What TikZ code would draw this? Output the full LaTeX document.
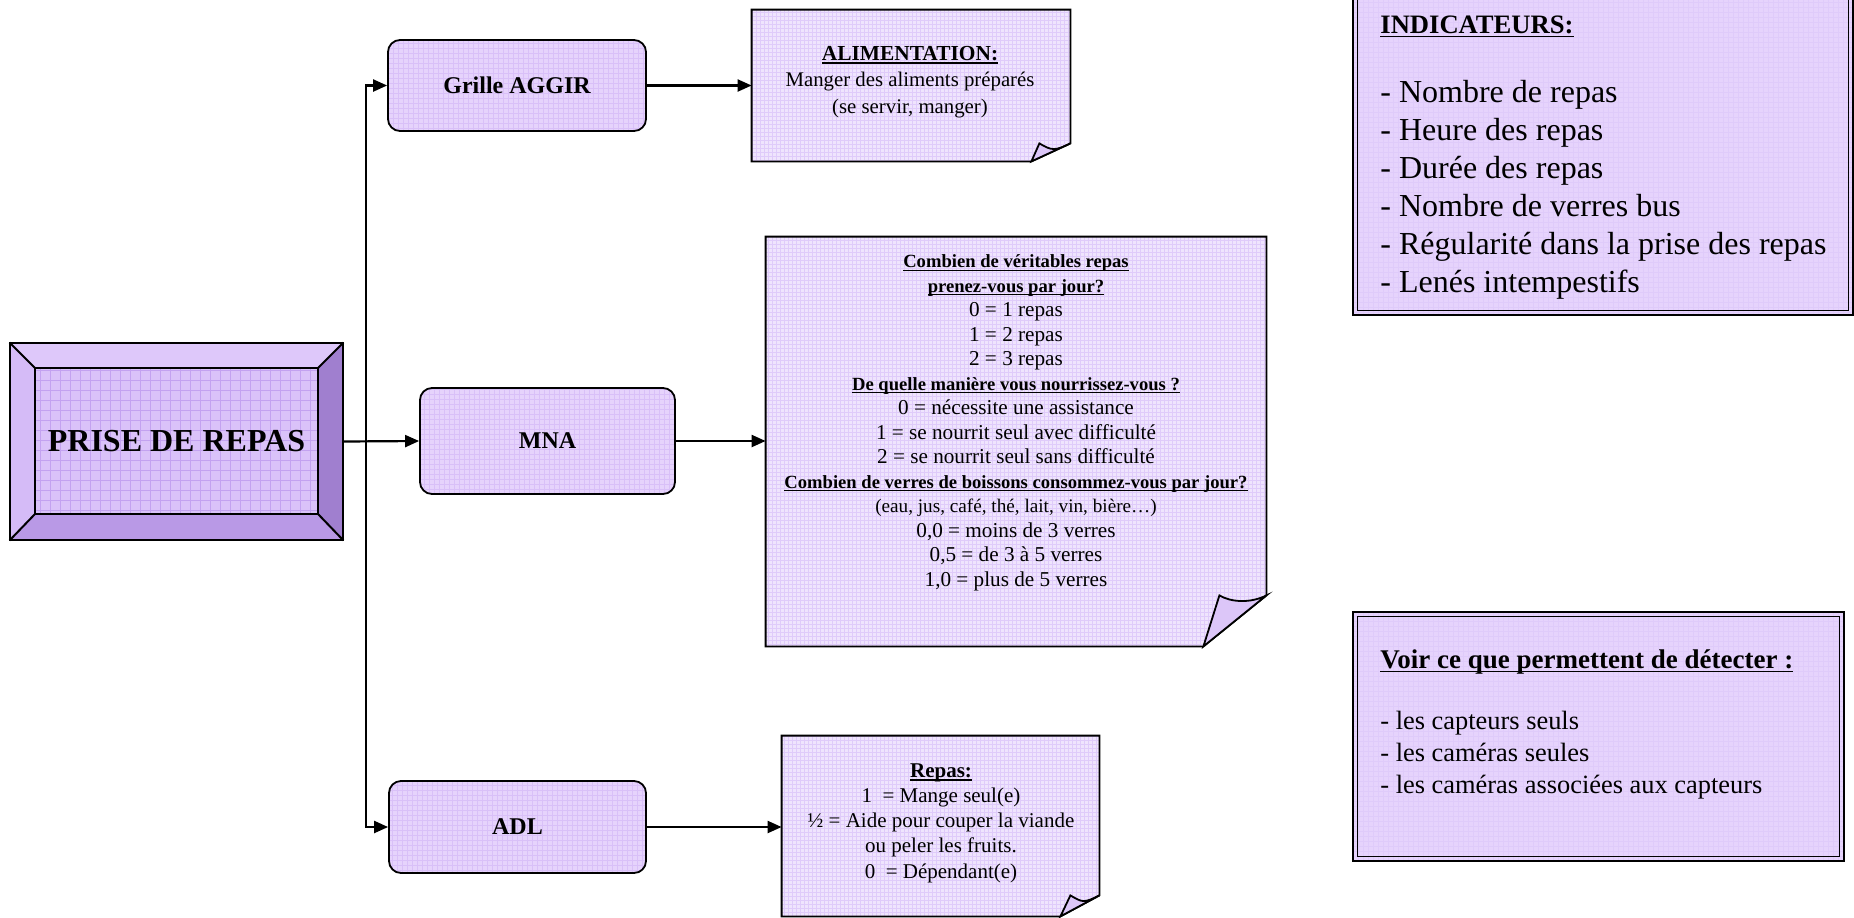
\documentclass[tikz,border=0pt]{standalone}
\usepackage{fontspec}
\setmainfont{Liberation Serif}
\usetikzlibrary{arrows.meta,calc}
\definecolor{notefill}{HTML}{EFE4FD}
\definecolor{notegrid}{HTML}{DFCBFA}
\definecolor{boxfill}{HTML}{E6D3FC}
\definecolor{boxgrid}{HTML}{D9C0F8}
\definecolor{facefill}{HTML}{DAC2F9}
\definecolor{facegrid}{HTML}{C3A2F0}
\definecolor{bevtop}{HTML}{DEC8FA}
\definecolor{bevleft}{HTML}{D5BBF7}
\definecolor{bevbot}{HTML}{B999E6}
\definecolor{bevright}{HTML}{A07FCF}
\definecolor{flapfill}{HTML}{DCC6F8}
\definecolor{dboxfill}{HTML}{E6D3FC}
\newsavebox{\myulbox}
\newcommand{\myul}[1]{\sbox{\myulbox}{#1}\rlap{\vrule width\wd\myulbox height -0.1em depth 0.155em}\usebox{\myulbox}}
\tikzset{
  gridded/.style 2 args={path picture={\draw[#1,line width=0.3pt] (path picture bounding box.south west) grid[step=#2] (path picture bounding box.north east);}},
  rbox/.style={draw=black, line width=0.9pt, rounded corners=6pt, fill=boxfill, gridded={boxgrid}{2.5pt}, font=\fontsize{12}{14}\selectfont\bfseries, inner sep=0pt},
  noteanchor/.style={draw=none, inner sep=0pt},
  notebody/.style={draw=black, line width=0.9pt, fill=notefill, gridded={notegrid}{2pt}},
  flap/.style={draw=black, line width=0.9pt, fill=flapfill},
  dbox/.style={draw=black, line width=1.4pt, fill=dboxfill, gridded={notegrid}{2.5pt}, inner sep=0pt},
  conn/.style={line width=1.1pt, -{Triangle[length=7pt,width=6pt]}},
  txt/.style={inner sep=0pt, align=center}
}
\newcommand{\drawfoldnote}[4]{%
  \filldraw[notebody] (#1.north west) -- (#1.north east) -- ($(#1.south east)+(0,-#3)$) -- ($(#1.south east)+(-#2,0)$) -- (#1.south west) -- cycle;
  \filldraw[flap] ($(#1.south east)+(-#2,0)$) -- ($(#1.south east)+(-#2+#4,-#3)$) .. controls +(12,7) and +(-16,8) .. ($(#1.south east)+(0,-#3)$) -- cycle;
}
\begin{document}
\begin{tikzpicture}[x=0.5pt,y=-0.5pt]
\useasboundingbox (0,0) rectangle (1854,917);

% main bevel box
\node[draw=none, inner sep=0pt, minimum width=166.5pt, minimum height=98.5pt] (main) at (176.5,441.5) {};
\coordinate (iNW) at ($(main.north west)+(25,25)$);
\coordinate (iNE) at ($(main.north east)+(-25,25)$);
\coordinate (iSE) at ($(main.south east)+(-25,-26)$);
\coordinate (iSW) at ($(main.south west)+(25,-26)$);
\fill[bevtop] (main.north west) -- (main.north east) -- (iNE) -- (iNW) -- cycle;
\fill[bevleft] (main.north west) -- (iNW) -- (iSW) -- (main.south west) -- cycle;
\fill[bevbot] (main.south west) -- (iSW) -- (iSE) -- (main.south east) -- cycle;
\fill[bevright] (main.north east) -- (main.south east) -- (iSE) -- (iNE) -- cycle;
\filldraw[line width=1pt, fill=facefill, gridded={facegrid}{5pt}] (iNW) rectangle (iSE);
\draw[line width=1pt] (main.north west) rectangle (main.south east);
\draw[line width=1pt] (main.north west) -- (iNW) (main.north east) -- (iNE) (main.south east) -- (iSE) (main.south west) -- (iSW);
\node[txt, font=\fontsize{16}{18}\selectfont\bfseries] (title) at ($(iNW)!0.5!(iSE)$) {PRISE DE REPAS};

% rounded boxes
\node[rbox, minimum width=129pt, minimum height=45.5pt] (grille) at (517,85.5) {Grille AGGIR};
\node[rbox, minimum width=127.5pt, minimum height=53pt] (mna) at (547.5,441) {MNA};
\node[rbox, minimum width=128.5pt, minimum height=46pt] (adl) at (517.5,827) {ADL};

% notes
\node[noteanchor, minimum width=159pt, minimum height=75.5pt] (note1) at (911,85.5) {};
\drawfoldnote{note1}{39}{18}{8}
\node[txt, font=\fontsize{10.4}{13.3}\selectfont] (n1txt) at (910,82) {{\fontsize{10.7}{13.3}\selectfont\myul{\textbf{ALIMENTATION:}}}\\Manger des aliments préparés\\(se servir, manger)};

\node[noteanchor, minimum width=250pt, minimum height=204.5pt] (note2) at (1016,441.5) {};
\drawfoldnote{note2}{63}{51}{16}
\node[txt, font=\fontsize{10.6}{12.25}\selectfont] (n2txt) at (1016,423) {%
{\fontsize{9.3}{12.25}\selectfont\bfseries\myul{Combien de véritables repas}}\\
{\fontsize{9.3}{12.25}\selectfont\bfseries\myul{prenez-vous par jour?}}\\
0 = 1 repas\\
1 = 2 repas\\
2 = 3 repas\\
{\fontsize{9.3}{12.25}\selectfont\bfseries\myul{De quelle manière vous nourrissez-vous ?}}\\
0 = nécessite une assistance\\
1 = se nourrit seul avec difficulté\\
2 = se nourrit seul sans difficulté\\
{\fontsize{9.3}{12.25}\selectfont\bfseries\myul{Combien de verres de boissons consommez-vous par jour?}}\\
{\fontsize{9.6}{12.25}\selectfont (eau, jus, café, thé, lait, vin, bière…)}\\
0,0 = moins de 3 verres\\
0,5 = de 3 à 5 verres\\
1,0 = plus de 5 verres};

\node[noteanchor, minimum width=158.5pt, minimum height=90pt] (note3) at (940.5,826) {};
\drawfoldnote{note3}{39}{21}{10}
\node[txt, font=\fontsize{10.5}{12.6}\selectfont] (n3txt) at (941,823) {%
\myul{\textbf{Repas:}}\\
1\ \ = Mange seul(e)\\
½ = Aide pour couper la viande\\
ou peler les fruits.\\
0\ \ = Dépendant(e)};

% connectors
\coordinate (trunk) at (366,441.5);
\draw[conn] (main.east) -- (mna.west);
\draw[conn] (trunk) |- (grille.west);
\draw[conn] (trunk) |- (adl.west);
\draw[conn] (grille.east) -- (grille.east -| note1.west);
\draw[conn] (mna.east) -- (mna.east -| note2.west);
\draw[conn] (adl.east) -- (adl.east -| note3.west);

% indicateurs box
\node[dbox, minimum width=250pt, minimum height=167.5pt] (ind) at (1603,147.5) {};
\draw[line width=0.5pt] ($(ind.north west)+(6,6)$) rectangle ($(ind.south east)+(-6,-6)$);
\node[inner sep=0pt, anchor=base west, font=\fontsize{13.3}{16}\selectfont\bfseries] (indh) at (1380,33) {\myul{INDICATEURS:}};
\node[inner sep=0pt, anchor=north west, align=left, font=\fontsize{16}{19}\selectfont] (indl) at (1380,80) {%
- Nombre de repas\\
- Heure des repas\\
- Durée des repas\\
- Nombre de verres bus\\
- Régularité dans la prise des repas\\
- Lenés intempestifs};

% voir box
\node[dbox, minimum width=245.5pt, minimum height=124.5pt] (voir) at (1598.5,736.5) {};
\draw[line width=0.5pt] ($(voir.north west)+(6,6)$) rectangle ($(voir.south east)+(-6,-6)$);
\node[inner sep=0pt, anchor=base west, font=\fontsize{13.5}{16}\selectfont\bfseries] (voirh) at (1380,668) {\myul{Voir ce que permettent de détecter :}};
\node[inner sep=0pt, anchor=north west, align=left, font=\fontsize{13.2}{16}\selectfont] (voirl) at (1380,711) {%
- les capteurs seuls\\
- les caméras seules\\
- les caméras associées aux capteurs};
\end{tikzpicture}
\end{document}
